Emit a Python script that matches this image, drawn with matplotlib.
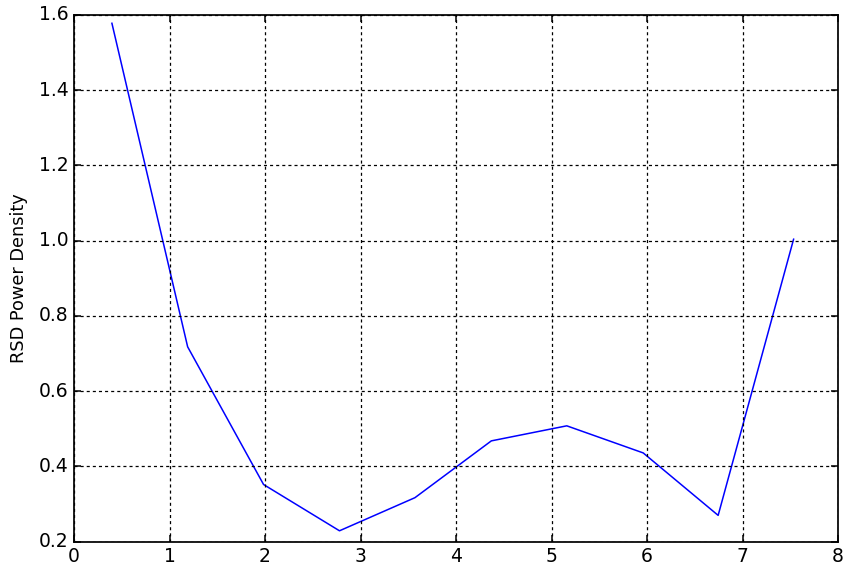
import matplotlib
matplotlib.use("Agg")
import matplotlib.pyplot as plt

# bin centres and RSD power density values
freq = [0.397, 1.19, 1.985, 2.78, 3.57, 4.37, 5.16, 5.96, 6.745, 7.535]
power = [1.578, 0.718, 0.352, 0.229, 0.317, 0.468, 0.508, 0.436, 0.270, 1.004]

plt.style.use("classic")
fig = plt.figure(figsize=(8.48, 5.74), dpi=100)
ax = fig.add_axes([74 / 848, 1 - 541.7 / 574, (838 - 74) / 848, (541.7 - 15) / 574])
ax.plot(freq, power, color="b", lw=1.1)
ax.set_xlim(0, 8)
ax.set_ylim(0.2, 1.6)
ax.grid(True, color="k", linestyle=(0, (2.2, 2.2)), linewidth=0.9)
for sp in ax.spines.values():
    sp.set_linewidth(1.25)
ax.tick_params(labelsize=13.5, width=1.1, length=5)
ax.set_ylabel("RSD Power Density", fontsize=12.8, labelpad=8)
fig.savefig("out.png", dpi=100)
